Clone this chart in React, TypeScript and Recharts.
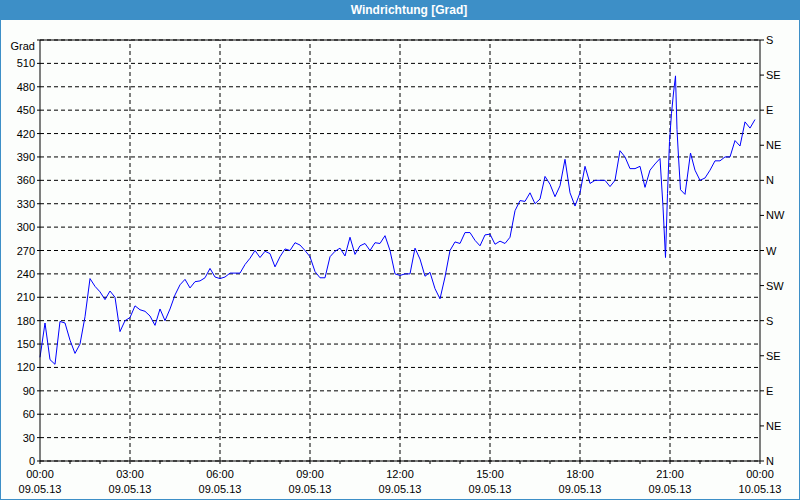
import React from 'react';
import {
  LineChart,
  Line,
  XAxis,
  YAxis,
  CartesianGrid,
  ReferenceLine
} from 'recharts';

// minutes since 09.05.13 00:00
const minutes = [
  0, 10, 20, 30, 40, 50, 60, 70, 80, 90, 100, 110, 120, 130, 140, 150, 160, 170, 180,
  190, 200, 210, 220, 230, 240, 250, 260, 270, 280, 290, 300, 310, 320, 330, 340, 350, 360,
  370, 380, 390, 400, 410, 420, 430, 440, 450, 460, 470, 480, 490, 500, 510, 520, 530, 540,
  550, 560, 570, 580, 590, 600, 610, 620, 630, 640, 650, 660, 670, 680, 690, 700, 710, 720,
  730, 740, 750, 760, 770, 780, 790, 800, 810, 820, 830, 840, 850, 860, 870, 880, 890, 900,
  910, 920, 930, 940, 950, 960, 970, 980, 990, 1000, 1010, 1020, 1030, 1040, 1050, 1060, 1070, 1080,
  1090, 1100, 1110, 1120, 1130, 1140, 1150, 1160, 1170, 1180, 1190, 1200, 1210, 1220, 1230, 1240,
  1246, 1251, 1255, 1259, 1263, 1267, 1271, 1274, 1277, 1281, 1290, 1301,
  1310, 1320, 1330, 1340, 1350, 1360, 1370, 1380, 1390, 1400, 1410, 1420, 1430
];

const grad = [
  133, 177, 130, 124, 179, 177, 155, 138, 150, 185, 234, 224, 217, 207, 218, 210, 166, 180, 184,
  199, 194, 192, 186, 174, 195, 180, 195, 213, 226, 233, 222, 230, 231, 235, 247, 236, 234,
  236, 241, 241, 241, 252, 260, 270, 261, 269, 266, 249, 262, 272, 270, 280, 277, 270, 262,
  243, 235, 235, 262, 269, 273, 263, 287, 265, 276, 279, 270, 280, 279, 289, 270, 240, 238,
  240, 240, 273, 259, 237, 242, 221, 208, 236, 270, 281, 279, 293, 293, 283, 276, 290, 291,
  278, 282, 279, 287, 321, 334, 333, 344, 330, 336, 365, 355, 339, 353, 387, 344, 327, 344,
  378, 356, 360, 360, 360, 352, 360, 398, 390, 375, 375, 378, 351, 373, 381, 388,
  326, 261, 343, 410, 446, 472, 494, 425, 390, 348, 342, 395,
  373, 360, 363, 373, 385, 385, 390, 390, 411, 404, 435, 427, 438
];

const hourTicks = [0, 60, 120, 180, 240, 300, 360, 420, 480, 540, 600, 660, 720, 780, 840, 900, 960, 1020, 1080, 1140, 1200, 1260, 1320, 1380, 1440];
const timeLabels: Record<number, [string, string]> = {
  0: ['00:00', '09.05.13'],
  180: ['03:00', '09.05.13'],
  360: ['06:00', '09.05.13'],
  540: ['09:00', '09.05.13'],
  720: ['12:00', '09.05.13'],
  900: ['15:00', '09.05.13'],
  1080: ['18:00', '09.05.13'],
  1260: ['21:00', '09.05.13'],
  1440: ['00:00', '10.05.13']
};
const gridTimes = [180, 360, 540, 720, 900, 1080, 1260];

const gradTicks = [0, 30, 60, 90, 120, 150, 180, 210, 240, 270, 300, 330, 360, 390, 420, 450, 480, 510, 540];
const dirTicks = [0, 45, 90, 135, 180, 225, 270, 315, 360, 405, 450, 495, 540];
const dirLabels = ['N', 'NE', 'E', 'SE', 'S', 'SW', 'W', 'NW', 'N', 'NE', 'E', 'SE', 'S'];

const data = minutes.map((m, i) => ({ t: m, grad: grad[i] }));

const FONT = '"Liberation Sans", Arial, sans-serif';

const TimeTick = (props: any) => {
  const { x, y, payload } = props;
  const label = timeLabels[payload.value];
  if (!label) return null;
  return (
    <text x={x} y={y} textAnchor="middle" fill="#000" fontSize={11} fontFamily={FONT}>
      <tspan x={x} dy={12}>{label[0]}</tspan>
      <tspan x={x} dy={15}>{label[1]}</tspan>
    </text>
  );
};

const GradTick = (props: any) => {
  const { x, y, payload } = props;
  const isTop = payload.value === 540;
  return (
    <text x={x} y={isTop ? y + 6 : y} dy={4} textAnchor="end" fill="#000" fontSize={11} fontFamily={FONT}>
      {isTop ? 'Grad' : payload.value}
    </text>
  );
};

const DirTick = (props: any) => {
  const { x, y, payload } = props;
  const idx = dirTicks.indexOf(payload.value);
  return (
    <text x={x} y={y} dy={4} textAnchor="start" fill="#000" fontSize={11} fontFamily={FONT}>
      {idx >= 0 ? dirLabels[idx] : ''}
    </text>
  );
};

export default function App() {
  return (
    <div style={{ position: 'fixed', left: 0, top: 0, width: 800, height: 500, background: '#fcfefc' }}>
      <div
        style={{
          position: 'absolute',
          left: 0,
          top: 0,
          width: 800,
          height: 20,
          boxSizing: 'border-box',
          paddingLeft: 18,
          background: '#3d8fc7',
          color: '#fff',
          fontFamily: FONT,
          fontWeight: 'bold',
          fontSize: 12,
          lineHeight: '20px',
          textAlign: 'center'
        }}
      >
        Windrichtung [Grad]
      </div>
      <div style={{ position: 'absolute', left: 0, top: 0 }}>
        <LineChart width={800} height={500} data={data} margin={{ top: 40, right: 0, left: 0, bottom: 0 }}>
          <CartesianGrid vertical={false} stroke="#000" strokeDasharray="4 3" />
          <XAxis
            dataKey="t"
            type="number"
            domain={[0, 1440]}
            ticks={hourTicks}
            interval={0}
            height={39}
            tickSize={3}
            tickMargin={2}
            stroke="#000"
            tick={<TimeTick />}
          />
          <YAxis
            type="number"
            domain={[0, 540]}
            ticks={gradTicks}
            interval={0}
            width={40}
            tickSize={3}
            tickMargin={2}
            stroke="#000"
            tick={<GradTick />}
          />
          <YAxis
            yAxisId="dir"
            orientation="right"
            type="number"
            domain={[0, 540]}
            ticks={dirTicks}
            interval={0}
            width={40}
            tickSize={4}
            tickMargin={2}
            stroke="#000"
            tick={<DirTick />}
          />
          {gridTimes.map((v) => (
            <ReferenceLine key={v} x={v} stroke="#000" strokeDasharray="4 3" />
          ))}
          <ReferenceLine y={540} stroke="#000" />
          <Line
            yAxisId="dir"
            type="linear"
            dataKey="grad"
            stroke="none"
            dot={false}
            activeDot={false}
            legendType="none"
            isAnimationActive={false}
          />
          <Line
            type="linear"
            dataKey="grad"
            stroke="#0000ff"
            strokeWidth={1}
            dot={false}
            activeDot={false}
            isAnimationActive={false}
          />
        </LineChart>
      </div>
      <div
        style={{
          position: 'absolute',
          left: 0,
          top: 0,
          width: 800,
          height: 500,
          boxSizing: 'border-box',
          border: '1px solid #3d8fc7',
          pointerEvents: 'none'
        }}
      />
    </div>
  );
}
